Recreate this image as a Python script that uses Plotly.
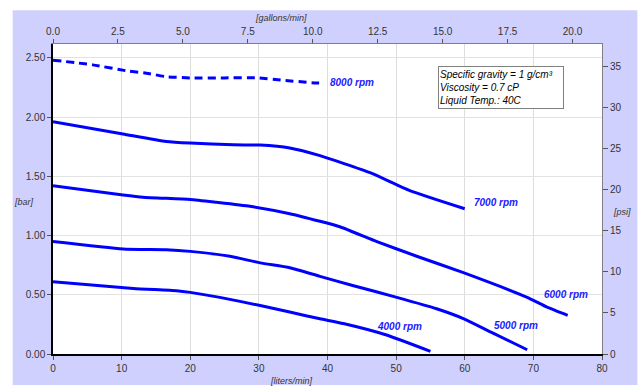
import plotly.graph_objects as go

# ---- data (flow in liters/min, pressure in bar) ----
flow_8000 = [0, 5.8, 10.7, 13.6, 16.5, 20, 25, 29.7, 33.5, 37.7, 39.2]
bar_8000 = [2.48, 2.44, 2.39, 2.37, 2.34, 2.33, 2.33, 2.33, 2.31, 2.29, 2.285]

flow_7000 = [0, 10.2, 16.5, 20, 26.3, 30.2, 34.5, 38.9, 46.2, 52, 60]
bar_7000 = [1.96, 1.857, 1.794, 1.78, 1.765, 1.763, 1.739, 1.674, 1.53, 1.379, 1.226]

flow_6000 = [0, 10.2, 13.1, 20, 23.8, 28.7, 34.5, 38.9, 41.8, 47.2, 53, 59.8, 69.1, 72, 75]
bar_6000 = [1.42, 1.342, 1.323, 1.304, 1.28, 1.246, 1.184, 1.12, 1.074, 0.949, 0.825, 0.686, 0.478, 0.395, 0.326]

flow_5000 = [0, 10.2, 16.5, 20, 25.8, 30.2, 34.5, 38.9, 43.8, 50.1, 55.9, 59.8, 64.2, 69.1]
bar_5000 = [0.949, 0.886, 0.880, 0.866, 0.825, 0.769, 0.728, 0.655, 0.576, 0.478, 0.382, 0.299, 0.174, 0.036]

flow_4000 = [0, 11.7, 18, 20, 24.3, 30.2, 34.5, 38.9, 42.3, 48.6, 55]
bar_4000 = [0.609, 0.553, 0.534, 0.52, 0.478, 0.409, 0.354, 0.297, 0.257, 0.160, 0.022]

curve_names = ["8000 rpm", "7000 rpm", "6000 rpm", "5000 rpm", "4000 rpm"]
label_flow = [40.1, 61.1, 71.2, 64.0, 46.9]
label_bar = [2.295, 1.282, 0.50, 0.243, 0.229]

note_lines = ["Specific gravity = 1 g/cm³", "Viscosity = 0.7 cP", "Liquid Temp.: 40C"]

LPM_MAX = 80
BAR_MAX = 2.616
GAL_PER_L = 1 / 3.785
PSI_MAX = 37.7

FONT = "Liberation Sans, Arial, sans-serif"
BLUE = "#0000FF"
LAV = "#D0D0FF"

fig = go.Figure()
series = [(flow_8000, bar_8000), (flow_7000, bar_7000), (flow_6000, bar_6000),
          (flow_5000, bar_5000), (flow_4000, bar_4000)]
for i, (fx, by) in enumerate(series):
    fig.add_trace(go.Scatter(
        x=fx, y=by, mode="lines", name=curve_names[i],
        line=dict(color=BLUE, width=3, shape="spline", smoothing=0.5,
                  dash="8px,5px" if i == 0 else "solid"),
        showlegend=False, hoverinfo="skip"))

# dummy trace to activate secondary axes
fig.add_trace(go.Scatter(x=[0], y=[0], xaxis="x2", yaxis="y2", mode="markers",
                         marker=dict(opacity=0), showlegend=False, hoverinfo="skip"))

for i, name in enumerate(curve_names):
    fig.add_annotation(x=label_flow[i], y=label_bar[i], xref="x", yref="y",
                       text="<b><i>%s</i></b>" % name, showarrow=False,
                       xanchor="left", yanchor="middle",
                       font=dict(family=FONT, size=10, color="#1a1aff"))

fig.add_annotation(x=0.7018, y=0.928, xref="paper", yref="paper",
                   xanchor="left", yanchor="top", align="left", valign="middle",
                   width=122, height=39,
                   text="<br>".join("<i>%s</i>" % t for t in note_lines),
                   showarrow=False, bgcolor="white", bordercolor="#808080",
                   borderwidth=1, borderpad=1,
                   font=dict(family=FONT, size=10, color="black"))

# axis titles
title_font = dict(family=FONT, size=9, color="#333333")
fig.add_annotation(x=-0.052, y=0.49, xref="paper", yref="paper", text="<i>[bar]</i>",
                   showarrow=False, font=title_font, xanchor="center", yanchor="middle")
fig.add_annotation(x=1.037, y=0.458, xref="paper", yref="paper", text="<i>[psi]</i>",
                   showarrow=False, font=title_font, xanchor="center", yanchor="middle")
fig.add_annotation(x=0.416, y=1.083, xref="paper", yref="paper", text="<i>[gallons/min]</i>",
                   showarrow=False, font=title_font, xanchor="center", yanchor="middle")
fig.add_annotation(x=0.435, y=-0.065, xref="paper", yref="paper", text="<i>[liters/min]</i>",
                   showarrow=False, font=title_font, xanchor="center", yanchor="top")

# background panel
fig.add_shape(type="rect", xref="paper", yref="paper", x0=-0.0735, x1=1.0644,
              y0=-0.1, y1=1.109, fillcolor=LAV, line=dict(width=0), layer="below")
fig.add_shape(type="rect", xref="paper", yref="paper", x0=0, x1=1, y0=0, y1=1,
              fillcolor="white", line=dict(width=0), layer="below")

tick_font = dict(family=FONT, size=10, color="#333333")
fig.update_layout(
    width=640, height=386,
    margin=dict(l=53, r=38, t=44, b=27),
    paper_bgcolor="white", plot_bgcolor="white",
    font=dict(family=FONT),
    xaxis=dict(range=[0, LPM_MAX], dtick=10, tick0=0, showgrid=True, gridcolor="#DDDDDD",
               showline=True, linecolor="black", linewidth=1.5, ticks="outside",
               ticklen=4, tickcolor="#555555", tickfont=tick_font, zeroline=False),
    xaxis2=dict(range=[0, LPM_MAX * GAL_PER_L], dtick=2.5, tick0=0, tickformat=".1f",
                overlaying="x", side="top", showgrid=False, showline=True,
                linecolor="#808080", ticks="outside", ticklen=4, tickcolor="#555555",
                tickfont=tick_font, zeroline=False),
    yaxis=dict(range=[0, BAR_MAX], dtick=0.5, tick0=0, tickformat=".2f", showgrid=True,
               gridcolor="#E2E2E2", showline=True, linecolor="black", linewidth=1.5,
               ticks="outside", ticklen=4, tickcolor="#555555", tickfont=tick_font,
               zeroline=False),
    yaxis2=dict(range=[0, PSI_MAX], dtick=5, tick0=0, overlaying="y", side="right",
                showgrid=False, showline=True, linecolor="#808080", ticks="outside",
                ticklen=5, tickcolor="#555555", tickfont=tick_font, zeroline=False),
)

fig.write_html("out.html", post_script="document.body.style.margin='0';",
               config={"displayModeBar": False})
